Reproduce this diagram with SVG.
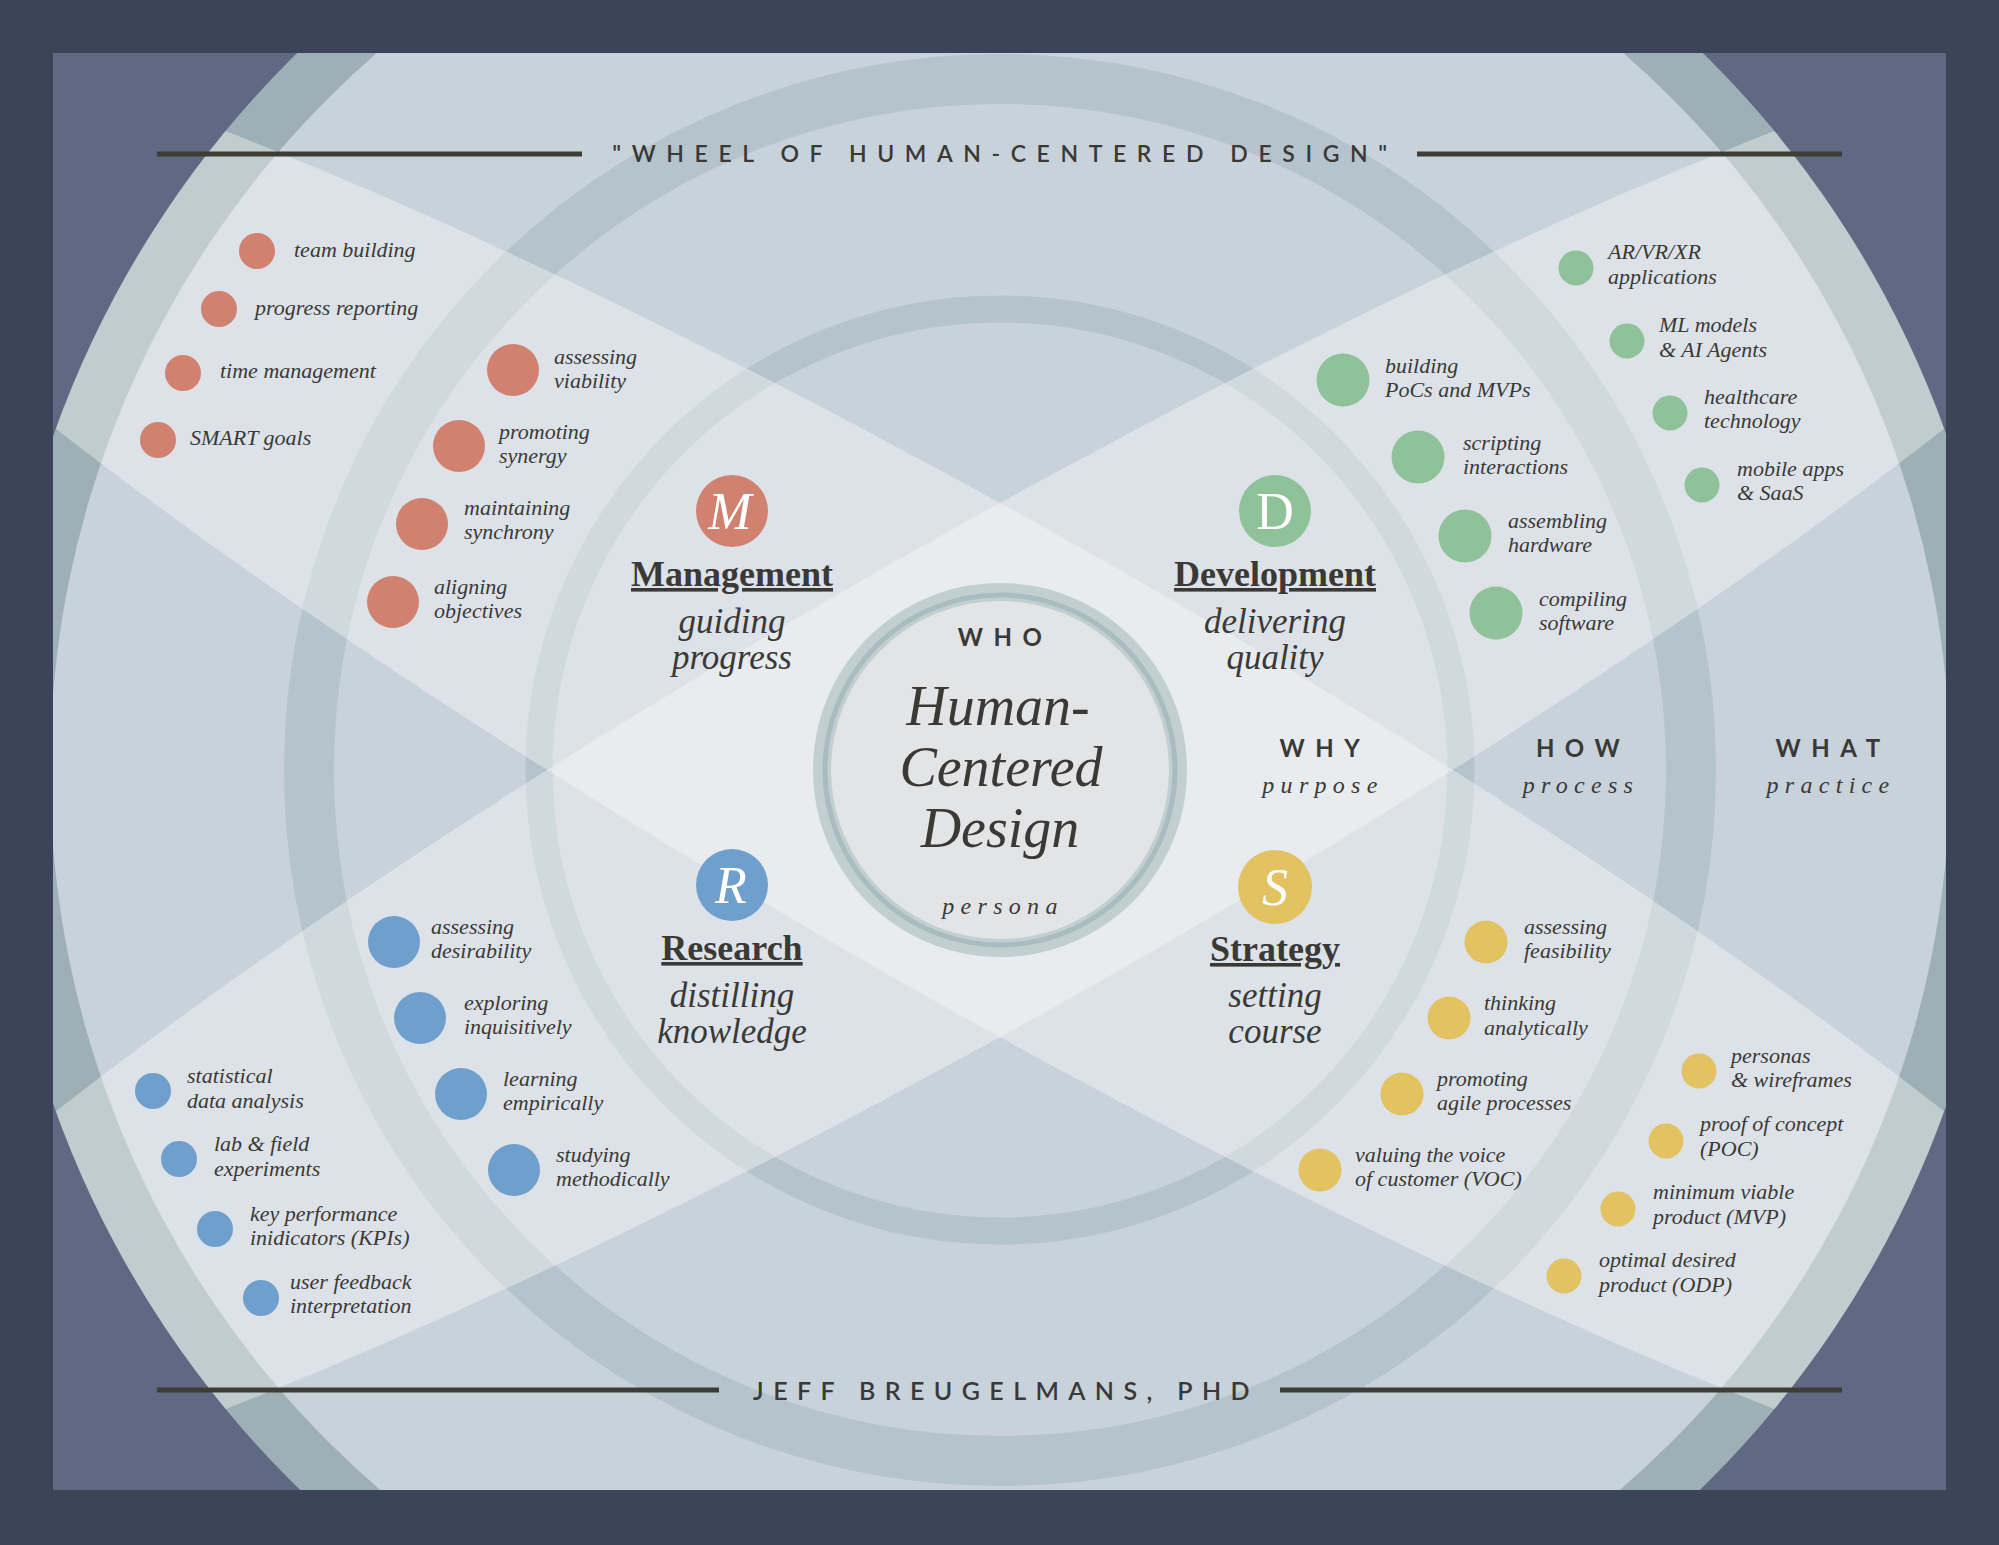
<svg xmlns="http://www.w3.org/2000/svg" width="1999" height="1545" viewBox="0 0 1999 1545">
<defs>
<clipPath id="frame"><rect x="53" y="53" width="1893" height="1437"/></clipPath>
<clipPath id="disk"><circle cx="1000" cy="770" r="1004"/></clipPath>
<style>
.lbl{font-family:"Liberation Serif",serif;font-style:italic;font-size:22px;fill:#3a3936}
.m{fill:#d0816f}.d{fill:#8fc298}.r{fill:#6f9fcc}.s{fill:#e3c261}
.cap{font-family:Lato,"Liberation Sans",sans-serif;font-weight:700;font-size:24px;letter-spacing:10.5px;fill:#3a3936;text-anchor:middle}
.sub{font-family:"Liberation Serif",serif;font-style:italic;font-size:24px;letter-spacing:6.3px;fill:#3a3936;text-anchor:middle}
.ttl{font-family:"Liberation Serif",serif;font-weight:700;font-size:36px;fill:#3a3936;text-anchor:middle;text-decoration:underline}
.tag{font-family:"Liberation Serif",serif;font-style:italic;font-size:35px;fill:#3a3936;text-anchor:middle}
.hcd{font-family:"Liberation Serif",serif;font-style:italic;font-size:56px;fill:#3a3936;text-anchor:middle}
.ltr{font-family:"Liberation Serif",serif;font-size:52px;fill:#ffffff;text-anchor:middle}
.it{font-style:italic}
.rule{stroke:#3d3c35;stroke-width:5}
.band{fill:#ffffff;fill-opacity:0.36}
.head{font-family:Lato,"Liberation Sans",sans-serif;font-weight:600;fill:#3a3936;text-anchor:middle}
</style>
</defs>
<rect x="0" y="0" width="1999" height="1545" fill="#3c4558"/>
<g id="background" clip-path="url(#frame)">
<rect x="53" y="53" width="1893" height="1437" fill="#5f6983"/>
<circle cx="1000" cy="770" r="1004" fill="#9eb0b5"/>
<circle cx="1000" cy="770" r="950" fill="#c8d2da"/>
<circle cx="1000" cy="770" r="691" fill="none" stroke="#b5c4cc" stroke-width="50"/>
<circle cx="1000" cy="770" r="461" fill="none" stroke="#b5c4cc" stroke-width="27"/>
<g clip-path="url(#disk)">
<ellipse class="band" cx="1000" cy="770" rx="1460" ry="233" transform="rotate(29.7 1000 770)"/>
<ellipse class="band" cx="1000" cy="770" rx="1460" ry="233" transform="rotate(-29.7 1000 770)"/>
</g>
</g>
<g id="connectors"></g>
<g id="title">
<line class="rule" x1="157" y1="154" x2="582" y2="154"/>
<line class="rule" x1="1417" y1="154" x2="1842" y2="154"/>
<text class="head" x="1005" y="162" style="font-size:23px;letter-spacing:10.6px">"WHEEL OF HUMAN-CENTERED DESIGN"</text>
</g>
<g id="footer">
<line class="rule" x1="157" y1="1390" x2="719" y2="1390"/>
<line class="rule" x1="1280" y1="1390" x2="1842" y2="1390"/>
<text class="head" x="1006" y="1400" style="font-size:25px;letter-spacing:9.4px">JEFF BREUGELMANS, PHD</text>
</g>
<g id="center">
<circle cx="1000" cy="770" r="187" fill="#c1cfd1"/>
<circle cx="1000" cy="770" r="175" fill="none" stroke="#a9bcbf" stroke-width="5"/>
<circle cx="1000" cy="770" r="169" fill="#e2e4e6"/>
<text class="cap" x="1005" y="646">WHO</text>
<text class="hcd" x="998" y="725">Human-</text>
<text class="hcd" x="1001" y="786">Centered</text>
<text class="hcd" x="1000" y="847">Design</text>
<text class="sub" x="1003" y="914">persona</text>
</g>
<g id="why"><text class="cap" x="1325" y="757">WHY</text><text class="sub" x="1323" y="793">purpose</text></g>
<g id="how"><text class="cap" x="1583" y="757">HOW</text><text class="sub" x="1581" y="793">process</text></g>
<g id="what"><text class="cap" x="1833" y="757">WHAT</text><text class="sub" x="1831" y="793">practice</text></g>
<g id="management">
<circle class="m" cx="732" cy="511" r="36"/>
<text class="ltr it" x="730" y="529">M</text>
<text class="ttl" x="732" y="586">Management</text>
<text class="tag" x="732" y="633">guiding</text>
<text class="tag" x="732" y="669">progress</text>
</g>
<g id="development">
<circle class="d" cx="1275" cy="511" r="36"/>
<text class="ltr" x="1275" y="529">D</text>
<text class="ttl" x="1275" y="586">Development</text>
<text class="tag" x="1275" y="633">delivering</text>
<text class="tag" x="1275" y="669">quality</text>
</g>
<g id="research">
<circle class="r" cx="732" cy="885" r="36"/>
<text class="ltr it" x="731" y="903">R</text>
<text class="ttl" x="732" y="960">Research</text>
<text class="tag" x="732" y="1007">distilling</text>
<text class="tag" x="732" y="1043">knowledge</text>
</g>
<g id="strategy">
<circle class="s" cx="1275" cy="887" r="37"/>
<text class="ltr it" x="1275" y="905">S</text>
<text class="ttl" x="1275" y="961">Strategy</text>
<text class="tag" x="1275" y="1007">setting</text>
<text class="tag" x="1275" y="1043">course</text>
</g>
<g id="m-team-building"><circle class="m" cx="257" cy="251" r="18"/><text class="lbl" x="294" y="257">team building</text></g>
<g id="m-progress-reporting"><circle class="m" cx="219" cy="309" r="18"/><text class="lbl" x="255" y="315">progress reporting</text></g>
<g id="m-time-management"><circle class="m" cx="183" cy="373" r="18"/><text class="lbl" x="220" y="378">time management</text></g>
<g id="m-smart-goals"><circle class="m" cx="158" cy="440" r="18"/><text class="lbl" x="190" y="445">SMART goals</text></g>
<g id="m-assessing-viability"><circle class="m" cx="513" cy="370" r="26"/><text class="lbl"><tspan x="554" y="364">assessing</tspan><tspan x="554" y="388">viability</tspan></text></g>
<g id="m-promoting-synergy"><circle class="m" cx="459" cy="446" r="26"/><text class="lbl"><tspan x="499" y="439">promoting</tspan><tspan x="499" y="463">synergy</tspan></text></g>
<g id="m-maintaining-synchrony"><circle class="m" cx="422" cy="524" r="26"/><text class="lbl"><tspan x="464" y="515">maintaining</tspan><tspan x="464" y="539">synchrony</tspan></text></g>
<g id="m-aligning-objectives"><circle class="m" cx="393" cy="602" r="26"/><text class="lbl"><tspan x="434" y="594">aligning</tspan><tspan x="434" y="618">objectives</tspan></text></g>
<g id="d-building"><circle class="d" cx="1343" cy="380" r="26.5"/><text class="lbl"><tspan x="1385" y="373">building</tspan><tspan x="1385" y="397">PoCs and MVPs</tspan></text></g>
<g id="d-scripting"><circle class="d" cx="1418" cy="457" r="26.5"/><text class="lbl"><tspan x="1463" y="450">scripting</tspan><tspan x="1463" y="474">interactions</tspan></text></g>
<g id="d-assembling"><circle class="d" cx="1465" cy="536" r="26.5"/><text class="lbl"><tspan x="1508" y="528">assembling</tspan><tspan x="1508" y="552">hardware</tspan></text></g>
<g id="d-compiling"><circle class="d" cx="1496" cy="613" r="26.5"/><text class="lbl"><tspan x="1539" y="606">compiling</tspan><tspan x="1539" y="630">software</tspan></text></g>
<g id="d-arvrxr"><circle class="d" cx="1576" cy="268" r="17.5"/><text class="lbl"><tspan x="1608" y="259">AR/VR/XR</tspan><tspan x="1608" y="284">applications</tspan></text></g>
<g id="d-ml-models"><circle class="d" cx="1627" cy="341" r="17.5"/><text class="lbl"><tspan x="1659" y="332">ML models</tspan><tspan x="1659" y="357">&amp; AI Agents</tspan></text></g>
<g id="d-healthcare"><circle class="d" cx="1670" cy="413" r="17.5"/><text class="lbl"><tspan x="1704" y="404">healthcare</tspan><tspan x="1704" y="428">technology</tspan></text></g>
<g id="d-mobile"><circle class="d" cx="1702" cy="485" r="17.5"/><text class="lbl"><tspan x="1737" y="476">mobile apps</tspan><tspan x="1737" y="500">&amp; SaaS</tspan></text></g>
<g id="r-desirability"><circle class="r" cx="394" cy="942" r="26"/><text class="lbl"><tspan x="431" y="934">assessing</tspan><tspan x="431" y="958">desirability</tspan></text></g>
<g id="r-exploring"><circle class="r" cx="420" cy="1018" r="26"/><text class="lbl"><tspan x="464" y="1010">exploring</tspan><tspan x="464" y="1034">inquisitively</tspan></text></g>
<g id="r-learning"><circle class="r" cx="461" cy="1094" r="26"/><text class="lbl"><tspan x="503" y="1086">learning</tspan><tspan x="503" y="1110">empirically</tspan></text></g>
<g id="r-studying"><circle class="r" cx="514" cy="1170" r="26"/><text class="lbl"><tspan x="556" y="1162">studying</tspan><tspan x="556" y="1186">methodically</tspan></text></g>
<g id="r-statistical"><circle class="r" cx="153" cy="1091" r="18"/><text class="lbl"><tspan x="187" y="1083">statistical</tspan><tspan x="187" y="1108">data analysis</tspan></text></g>
<g id="r-lab"><circle class="r" cx="179" cy="1159" r="18"/><text class="lbl"><tspan x="214" y="1151">lab &amp; field</tspan><tspan x="214" y="1176">experiments</tspan></text></g>
<g id="r-kpi"><circle class="r" cx="215" cy="1229" r="18"/><text class="lbl"><tspan x="250" y="1221">key performance</tspan><tspan x="250" y="1245">inidicators (KPIs)</tspan></text></g>
<g id="r-feedback"><circle class="r" cx="261" cy="1298" r="18"/><text class="lbl"><tspan x="290" y="1289">user feedback</tspan><tspan x="290" y="1313">interpretation</tspan></text></g>
<g id="s-feasibility"><circle class="s" cx="1486" cy="942" r="21.5"/><text class="lbl"><tspan x="1524" y="934">assessing</tspan><tspan x="1524" y="958">feasibility</tspan></text></g>
<g id="s-thinking"><circle class="s" cx="1449" cy="1018" r="21.5"/><text class="lbl"><tspan x="1484" y="1010">thinking</tspan><tspan x="1484" y="1035">analytically</tspan></text></g>
<g id="s-agile"><circle class="s" cx="1402" cy="1094" r="21.5"/><text class="lbl"><tspan x="1437" y="1086">promoting</tspan><tspan x="1437" y="1110">agile processes</tspan></text></g>
<g id="s-voc"><circle class="s" cx="1320" cy="1170" r="21.5"/><text class="lbl"><tspan x="1355" y="1162">valuing the voice</tspan><tspan x="1355" y="1186">of customer (VOC)</tspan></text></g>
<g id="s-personas"><circle class="s" cx="1699" cy="1071" r="17.5"/><text class="lbl"><tspan x="1731" y="1063">personas</tspan><tspan x="1731" y="1087">&amp; wireframes</tspan></text></g>
<g id="s-poc"><circle class="s" cx="1666" cy="1141" r="17.5"/><text class="lbl"><tspan x="1700" y="1131">proof of concept</tspan><tspan x="1700" y="1156">(POC)</tspan></text></g>
<g id="s-mvp"><circle class="s" cx="1618" cy="1209" r="17.5"/><text class="lbl"><tspan x="1653" y="1199">minimum viable</tspan><tspan x="1653" y="1224">product (MVP)</tspan></text></g>
<g id="s-odp"><circle class="s" cx="1564" cy="1276" r="17.5"/><text class="lbl"><tspan x="1599" y="1267">optimal desired</tspan><tspan x="1599" y="1292">product (ODP)</tspan></text></g>
</svg>
